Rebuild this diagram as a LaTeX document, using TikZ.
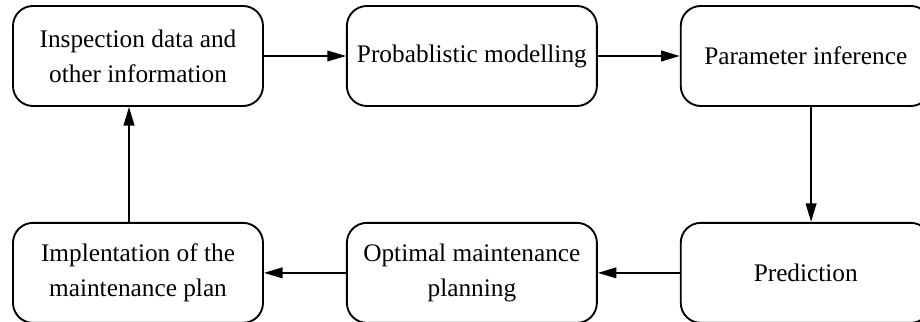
\documentclass[tikz,border=0pt]{standalone}
\usepackage{fontspec}
\setmainfont{Liberation Serif}
\usepackage{tikz}
\usetikzlibrary{positioning, arrows.meta}

\begin{document}
\begin{tikzpicture}[stage/.style={rectangle, rounded corners=0.3cm, draw=black, thick, text width=3.55cm, inner xsep=0.1cm, minimum height=1.5cm, align=flush center, font=\fontsize{10.8}{15}\selectfont}, flow/.style={thick, -{Triangle[length=2.8mm, width=1.6mm]}}, node distance=1.23cm]

\useasboundingbox (0,0) rectangle (13.8,4.83);

% Top row
\node[stage] (inspect) at (2.07,3.99) {
    Inspection data and \\
    other information
};

\node[stage, right=of inspect] (model) {
    Probablistic modelling
};

\node[stage, right=of model] (infer) {
    Parameter inference
};

% Bottom row
\node[stage, below=1.725cm of infer] (predict) {
    Prediction
};

\node[stage, below=1.725cm of model] (planning) {
    Optimal maintenance \\
    planning
};

\node[stage, below=1.725cm of inspect] (implement) {
    Implentation of the \\
    maintenance plan
};

% Arrows round the cycle
\draw[flow] (inspect.east) -- (model.west);
\draw[flow] (model.east) -- (infer.west);
\draw[flow] ([xshift=0.08cm]infer.south) -- ([xshift=0.08cm]predict.north);
\draw[flow] (predict.west) -- (planning.east);
\draw[flow] (planning.west) -- (implement.east);
\draw[flow] ([xshift=-0.135cm]implement.north) -- ([xshift=-0.135cm]inspect.south);

\end{tikzpicture}
\end{document}
